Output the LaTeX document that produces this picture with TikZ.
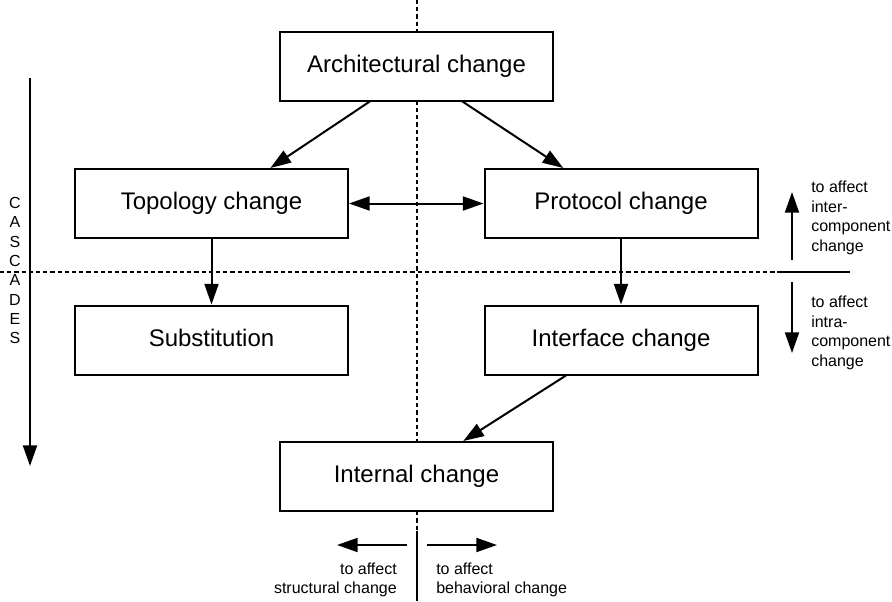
\documentclass[tikz,border=0pt]{standalone}
\usepackage{fontspec}
\setmainfont{Liberation Sans}
\usetikzlibrary{arrows.meta,calc}
\begin{document}
\begin{tikzpicture}[x=0.75pt,y=-0.75pt,
  box/.style={draw,line width=1.5pt,fill=white,minimum width=204.75pt,minimum height=51.75pt,inner sep=0pt,
    text height=13pt,text depth=3.5pt,font=\fontsize{18}{20}\selectfont},
  tip/.tip={Triangle[length=15.5pt,width=10.5pt]},
  conn/.style={line width=1.5pt,-tip},
  dconn/.style={line width=1.5pt,tip-tip},
  divider/.style={line width=1.5pt,dash pattern=on 3.2pt off 2.2pt},
  solidline/.style={line width=1.5pt},
  note/.style={inner sep=0pt,font=\fontsize{12}{14.6}\selectfont}]
\useasboundingbox (0,0) rectangle (892,601);

% dividing lines
\coordinate (vtop) at (417,0);
\coordinate (vmid) at (417,531);
\coordinate (vbot) at (417,601);
\coordinate (hleft) at (0,272);
\coordinate (hmid) at (777,272);
\coordinate (hright) at (850,272);
\draw[divider] (vtop) -- (vmid);
\draw[solidline] (vmid) -- (vbot);
\draw[divider] (hleft) -- (hmid);
\draw[solidline] (hmid) -- (hright);

% boxes
\node[box] (arch) at (416.5,66) {Architectural change};
\node[box] (topo) at (211.5,203.5) {Topology change};
\node[box] (prot) at (621,203.5) {Protocol change};
\node[box] (subs) at (211.5,340) {Substitution};
\node[box] (intf) at (621,340) {Interface change};
\node[box] (intl) at (416.5,476.5) {Internal change};

% connectors
\draw[conn] ($(arch.south west)!0.33!(arch.south east)$) -- ($(topo.north west)!0.714!(topo.north east)$);
\draw[conn] ($(arch.south west)!0.667!(arch.south east)$) -- ($(prot.north west)!0.29!(prot.north east)$);
\draw[dconn] (topo.east) -- (prot.west);
\draw[conn] (topo.south) -- (subs.north);
\draw[conn] (prot.south) -- (intf.north);
\draw[conn] ($(intf.south west)!0.3!(intf.south east)$) -- ($(intl.north west)!0.67!(intl.north east)$);

% cascades
\coordinate (cstart) at (30,78);
\coordinate (cend) at (30,466);
\draw[conn] (cstart) -- (cend);
\node[inner sep=0pt,align=center,font=\fontsize{12}{14.5}\selectfont] (casc) at (15,270.5) {C\\A\\S\\C\\A\\D\\E\\S};

% inter / intra component arrows
\coordinate (ua) at (792,260);
\coordinate (ub) at (792,192);
\coordinate (da) at (792,282);
\coordinate (db) at (792,353);
\draw[conn] (ua) -- (ub);
\draw[conn] (da) -- (db);
\node[note,align=left,anchor=west] (inter) at (811,218) {to affect\\inter-\\component\\change};
\node[note,align=left,anchor=west] (intra) at (811,333) {to affect\\intra-\\component\\change};

% structural / behavioral arrows
\coordinate (la) at (407,545);
\coordinate (lb) at (337,545);
\coordinate (ra) at (427,545);
\coordinate (rb) at (497,545);
\draw[conn] (la) -- (lb);
\draw[conn] (ra) -- (rb);
\node[note,align=right,anchor=east] (struct) at (397,580) {to affect\\structural change};
\node[note,align=left,anchor=west] (behav) at (436,580) {to affect\\behavioral change};
\end{tikzpicture}
\end{document}
